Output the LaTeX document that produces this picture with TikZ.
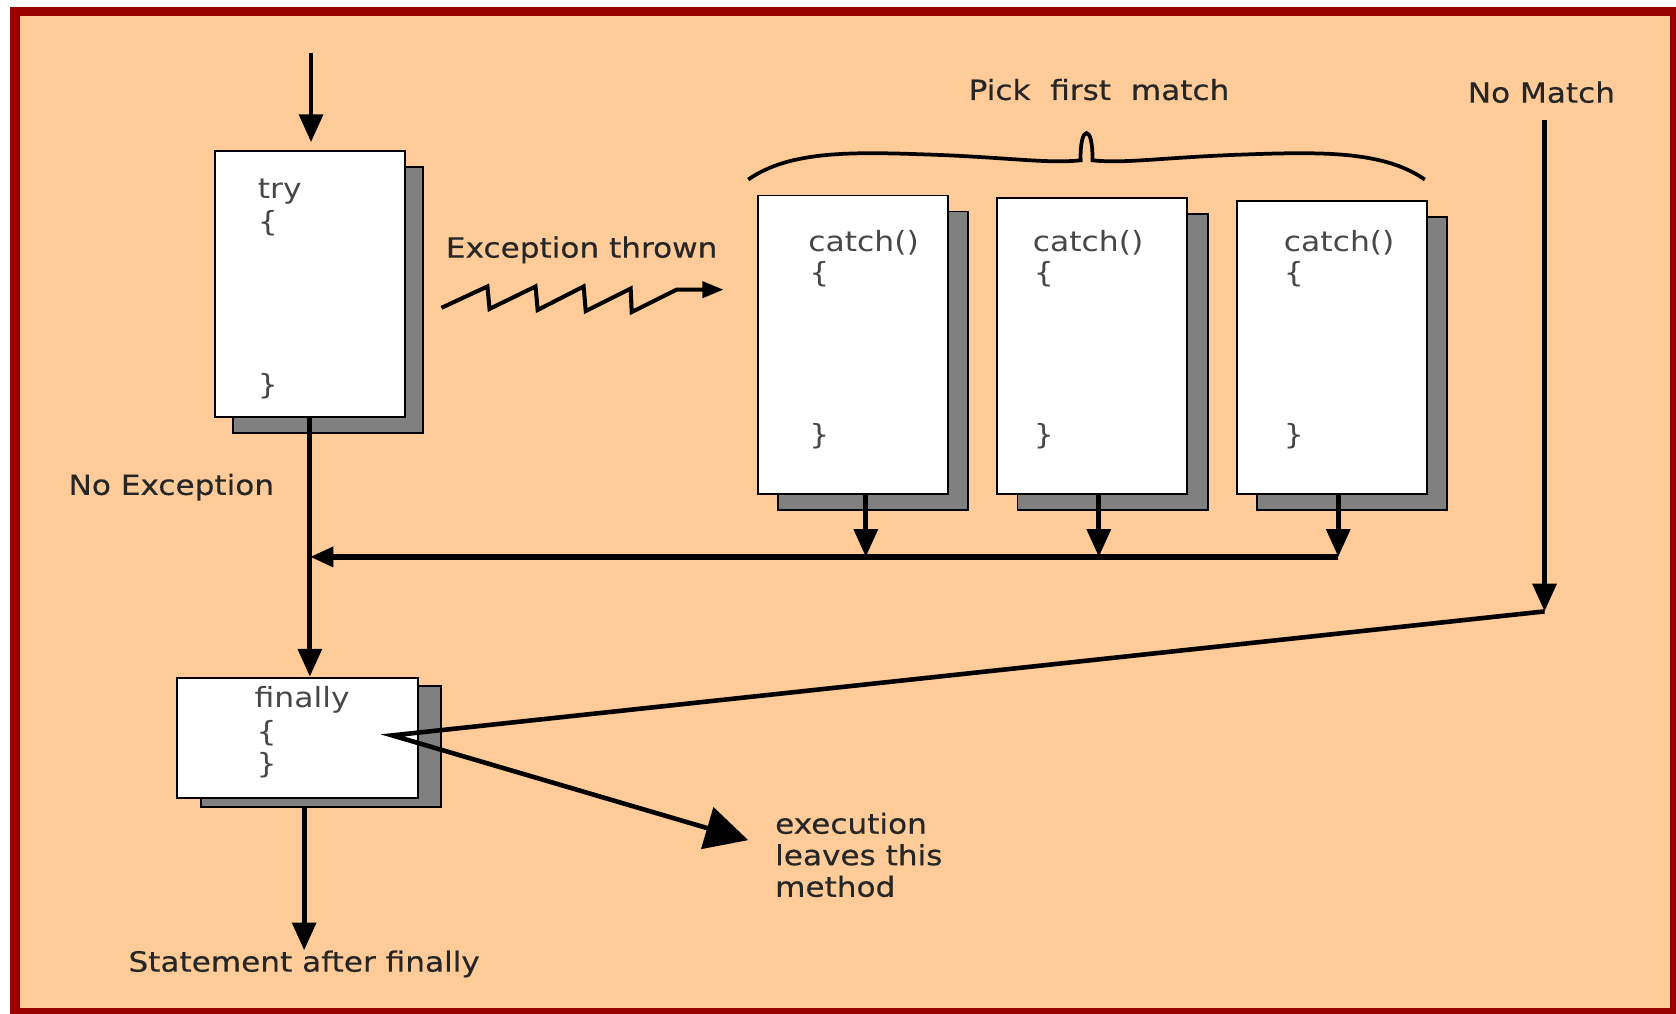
\documentclass[tikz,border=0pt]{standalone}
\usepackage{fontspec}
\setmainfont{DejaVu Sans}[FakeStretch=1.13]
\newfontfamily\labfont{DejaVu Sans}[FakeStretch=1.12,FakeBold=0.45]
\usetikzlibrary{arrows.meta,shadows,calc}
\definecolor{peach}{HTML}{FFCC99}
\definecolor{framered}{HTML}{990000}
\definecolor{shade}{HTML}{808080}
\begin{document}
\begin{tikzpicture}[x=1pt,y=-1pt,
  lab/.style={font=\labfont\fontsize{26}{29.5}\selectfont, text=black!85, inner sep=0pt},
  code/.style={font=\fontsize{26}{29.5}\selectfont, text=black!72, inner sep=0pt},
  box/.style={draw=black, line width=1.8pt, fill=white, inner sep=0pt, anchor=north west},
  sh/.style 2 args={drop shadow={shadow xshift=#1, shadow yshift=#2, fill=shade, draw=black, line width=1.8pt, opacity=1}},
  arr/.style={line width=4.5pt, -{Triangle[length=26pt,width=22pt]}},
  merge/.style={line width=5.5pt, -{Triangle[length=22pt,width=18pt]}},
  zig/.style={line width=3.8pt, line join=miter, -{Triangle[length=20pt,width=15pt]}},
  leave/.style={line width=4.3pt, line join=miter, -{Triangle[length=40pt,width=40pt]}},
  bracestyle/.style={line width=3.5pt}
]
\useasboundingbox (0,0) rectangle (1568,948);
\fill[white] (0,0) rectangle (1568,948);
\draw[framered, line width=8.5pt, fill=peach] (14,10.5) rectangle (1566.5,947.5);

% boxes
\node[box, sh={17pt}{-15pt}, minimum width=178pt, minimum height=249pt] (try) at (200,140) {};
\node[box, sh={19pt}{-15pt}, minimum width=178pt, minimum height=279pt] (c1) at (708,182) {};
\node[box, sh={19pt}{-15pt}, minimum width=178pt, minimum height=277pt] (c2) at (932,184) {};
\node[box, sh={19pt}{-15pt}, minimum width=178pt, minimum height=274pt] (c3) at (1156,187) {};
\node[box, sh={22pt}{-8pt}, minimum width=225pt, minimum height=113pt] (fin) at (165,633) {};

% code texts
\node[code, anchor=base west] (trykw) at (241,186) {try};
\node[code, anchor=base west] (tryo) at (241,217) {\{};
\node[code, anchor=base west] (tryc) at (241,369) {\}};
\node[code, anchor=base west] (c1kw) at (756,235) {catch()};
\node[code, anchor=base west] (c1o) at (757,264) {\{};
\node[code, anchor=base west] (c1c) at (757,416) {\}};
\node[code, anchor=base west] (c2kw) at (966,235) {catch()};
\node[code, anchor=base west] (c2o) at (967,264) {\{};
\node[code, anchor=base west] (c2c) at (967,416) {\}};
\node[code, anchor=base west] (c3kw) at (1201,235) {catch()};
\node[code, anchor=base west] (c3o) at (1201,264) {\{};
\node[code, anchor=base west] (c3c) at (1201,416) {\}};
\node[code, anchor=base west] (finkw) at (238,662) {finally};
\node[code, anchor=base west] (fino) at (240,694) {\{};
\node[code, anchor=base west] (finc) at (240,724) {\}};

% labels
\node[lab, anchor=base west] (exlab) at (417,241) {Exception thrown};
\node[lab, anchor=base west] (pick) at (906,93.5) {Pick\ \ first\ \ match};
\node[lab, anchor=base west] (nmlab) at (1373,96) {No Match};
\node[lab, anchor=base west] (noex) at (64,463) {No Exception};
\node[lab, anchor=base west] (stmt) at (120,909) {Statement after finally};
\node[lab, anchor=north west, align=left] (exelab) at (725,760) {execution\\leaves this\\method};

% coordinates
\coordinate (in) at (291,50);
\coordinate (j1) at (810,521);
\coordinate (j2) at (1028,521);
\coordinate (j3) at (1252,521);
\coordinate (nmtop) at (1445,112);
\coordinate (nmend) at (1445,572);
\coordinate (fp) at (367,688);
\coordinate (exe) at (700,786);
\coordinate (z0) at (413,288);
\coordinate (z1) at (677,271);

% connectors
\draw[arr] (in) -- ($(in |- try.north)+(0,-7)$);
\draw[arr] (try.south) -- (try.south |- fin.north);
\draw[arr] (c1.south -| j1) -- (j1);
\draw[arr] (c2.south -| j2) -- (j2);
\draw[arr] (c3.south -| j3) -- (j3);
\draw[merge] (j3) -- (j3 -| try.south);
\draw[arr] (nmtop) -- (nmend);
\draw[leave] (nmend) -- (fp) -- (exe);
\draw[arr] ($(fin.south -| stmt.north)+(0,8)$) -- (stmt.north);
\draw[zig] (z0) -- (456,268) -- (458,289) -- (501,268) -- (503,290) -- (546,268) -- (548,291) -- (590,270) -- (591,292) -- (633,271) -- (z1);

% brace
\draw[bracestyle] (700,168) .. controls (740,140) and (800,142) .. (880,145)
  .. controls (950,148) and (980,153) .. (1011,150)
  .. controls (1010,116) and (1023,116) .. (1022,150)
  .. controls (1052,153) and (1082,148) .. (1152,145)
  .. controls (1232,142) and (1293,140) .. (1333,168);
\end{tikzpicture}
\end{document}
